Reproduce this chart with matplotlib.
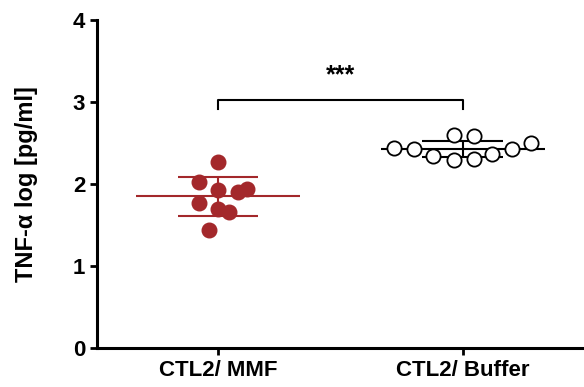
import numpy as np
import matplotlib.pyplot as plt

plt.rcParams['font.family'] = ['Liberation Sans', 'DejaVu Sans']
plt.rcParams['font.weight'] = 'bold'

groups = ['CTL2/ MMF', 'CTL2/ Buffer']
mmf = [2.27, 2.02, 1.93, 1.90, 1.94, 1.77, 1.70, 1.66, 1.44]
mmf_dx = [0.0, -0.078, 0.0, 0.08, 0.12, -0.078, 0.0, 0.045, -0.037]
buffer = [2.44, 2.43, 2.34, 2.29, 2.60, 2.59, 2.30, 2.37, 2.43, 2.50]
buffer_dx = [-0.28, -0.2, -0.12, -0.037, -0.037, 0.045, 0.045, 0.12, 0.2, 0.28]
mean_mmf, sd_mmf = 1.85, 0.24
mean_buf, sd_buf = 2.43, 0.10

red = '#a3282b'

fig = plt.figure(figsize=(5.84, 3.87), dpi=100)
ax = fig.add_axes([0.166, 0.101, 0.834, 0.847])

ax.scatter(np.array(mmf_dx) + 0, mmf, s=110, color=red, zorder=3)
ax.scatter(np.array(buffer_dx) + 1, buffer, s=105, facecolor='white',
           edgecolor='black', linewidth=1.3, zorder=3)

for x, m, sd, c in [(0, mean_mmf, sd_mmf, red), (1, mean_buf, sd_buf, 'black')]:
    ax.hlines(m, x - 0.335, x + 0.335, color=c, lw=1.5, zorder=2)
    ax.hlines([m - sd, m + sd], x - 0.165, x + 0.165, color=c, lw=1.5, zorder=2)
    ax.vlines(x, m - sd, m + sd, color=c, lw=1.5, zorder=2)

# significance bracket
ax.plot([0, 0, 1, 1], [2.92, 3.02, 3.02, 2.92], color='black', lw=1.5)
ax.text(0.5, 3.33, '***', ha='center', va='center', fontsize=18)

ax.set_xlim(-0.495, 1.495)
ax.set_ylim(0, 4)
ax.set_yticks([0, 1, 2, 3, 4])
ax.set_xticks([0, 1])
ax.set_xticklabels(groups)
ax.set_ylabel('TNF-α log [pg/ml]', fontsize=17, fontweight='bold', labelpad=25)
ax.tick_params(labelsize=16, width=2, length=5)
for s in ['top', 'right']:
    ax.spines[s].set_visible(False)
for s in ['left', 'bottom']:
    ax.spines[s].set_linewidth(2.2)

fig.savefig('out.png', dpi=100)
